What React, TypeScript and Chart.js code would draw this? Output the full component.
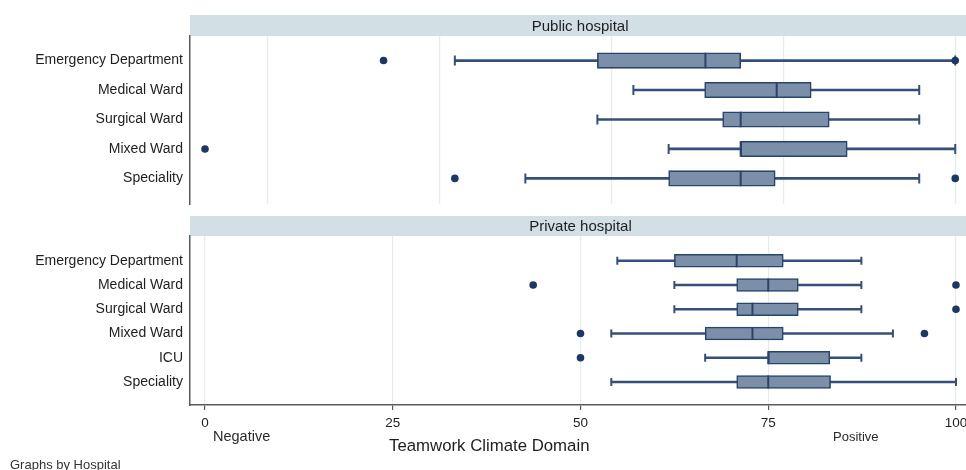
import React, { useEffect, useRef } from "react";
import { Chart, registerables } from "chart.js";

Chart.register(...registerables);

// ---------------- data ----------------
const xTickValues = [0, 25, 50, 75, 100];
const publicGridValues = [8.4, 31.3, 54.2, 77.1, 100];

const publicCategories = ["Emergency Department", "Medical Ward", "Surgical Ward", "Mixed Ward", "Speciality"];
const publicLowerWhisker = [33.3, 57.1, 52.3, 61.8, 42.7];
const publicQ1 = [52.3, 66.6, 69.0, 71.4, 61.8];
const publicMedian = [66.7, 76.2, 71.4, 71.4, 71.4];
const publicQ3 = [71.4, 80.8, 83.2, 85.6, 76.0];
const publicUpperWhisker = [100, 95.2, 95.2, 100, 95.2];
const publicOutliers = [[23.8, 100], [], [], [0], [33.3, 100]];

const privateCategories = ["Emergency Department", "Medical Ward", "Surgical Ward", "Mixed Ward", "ICU", "Speciality"];
const privateLowerWhisker = [54.9, 62.5, 62.5, 54.1, 66.6, 54.1];
const privateQ1 = [62.5, 70.8, 70.8, 66.6, 75.0, 70.8];
const privateMedian = [70.8, 75.0, 72.9, 72.9, 75.0, 75.0];
const privateQ3 = [77.0, 79.0, 79.0, 77.0, 83.2, 83.3];
const privateUpperWhisker = [87.4, 87.4, 87.4, 91.6, 87.4, 100];
const privateOutliers = [[], [43.7, 100], [100], [50, 95.8], [50], []];

const publicTitle = "Public hospital";
const privateTitle = "Private hospital";
const axisTitle = "Teamwork Climate Domain";
const negativeLabel = "Negative";
const positiveLabel = "Positive";
const byLabel = "Graphs by Hospital";

// ---------------- styles ----------------
const FONT = "Arial, 'Liberation Sans', Helvetica, sans-serif";
const BOX_FILL = "#7b8fa9";
const BOX_EDGE = "#29446a";
const WHISKER = "#34507a";
const DOT = "#1b3763";
const GRID = "#e7ebee";
const AXIS = "#5a5a5a";
const STRIP = "#d2e0e6";
const TEXT = "#1e1e1e";

type PanelSpec = {
  title: string;
  categories: string[];
  lo: number[];
  q1: number[];
  med: number[];
  q3: number[];
  hi: number[];
  outliers: number[][];
  gridValues: number[];
  showXAxis: boolean;
  yMin: number;
  yMax: number;
  boxH: number;
  capH: number;
  width: number;
  height: number;
  padTop: number;
  padBottom: number;
  stripTop: number;
  xAxisHeight: number;
};

function buildConfig(p: PanelSpec): any {
  const idx = p.categories.map((_, i) => i + 1);
  const caps: { x: number; y: number }[] = [];
  idx.forEach((y, i) => {
    caps.push({ x: p.lo[i], y });
    caps.push({ x: p.hi[i], y });
  });
  const dots: { x: number; y: number }[] = [];
  idx.forEach((y, i) => p.outliers[i].forEach((x) => dots.push({ x, y })));

  const stripPlugin = {
    id: "strip",
    beforeDraw(chart: any) {
      const { ctx, chartArea, width } = chart;
      ctx.save();
      ctx.fillStyle = STRIP;
      ctx.fillRect(chartArea.left, p.stripTop, width - chartArea.left, chartArea.top - p.stripTop);
      ctx.fillStyle = TEXT;
      ctx.font = `15px ${FONT}`;
      ctx.textAlign = "center";
      ctx.textBaseline = "middle";
      ctx.fillText(p.title, (chartArea.left + chartArea.right) / 2, (p.stripTop + chartArea.top) / 2 + 1);
      ctx.restore();
    },
  };

  return {
    type: "bar",
    data: {
      datasets: [
        {
          type: "bar",
          data: idx.map((y, i) => ({ y, x: [p.q1[i], p.q3[i]] })),
          backgroundColor: BOX_FILL,
          borderColor: BOX_EDGE,
          borderWidth: 1.6,
          borderSkipped: false,
          barThickness: p.boxH,
          maxBarThickness: p.boxH,
          barPercentage: 1,
          categoryPercentage: 1,
          grouped: false,
          order: 2,
        },
        {
          type: "bar",
          data: idx.map((y, i) => ({ y, x: [p.lo[i], p.hi[i]] })),
          backgroundColor: WHISKER,
          borderWidth: 0,
          barThickness: 2,
          maxBarThickness: 2,
          barPercentage: 1,
          categoryPercentage: 1,
          grouped: false,
          order: 3,
        },
        {
          type: "scatter",
          data: idx.map((y, i) => ({ x: p.med[i], y })),
          pointStyle: "line",
          rotation: 90,
          radius: p.boxH / 2,
          borderColor: BOX_EDGE,
          borderWidth: 2,
          order: 1,
        },
        {
          type: "scatter",
          data: caps,
          pointStyle: "line",
          rotation: 90,
          radius: p.capH / 2,
          borderColor: WHISKER,
          borderWidth: 2,
          order: 1,
        },
        {
          type: "scatter",
          data: dots,
          pointStyle: "circle",
          radius: 3.8,
          backgroundColor: DOT,
          borderColor: DOT,
          borderWidth: 0,
          order: 0,
        },
      ],
    },
    options: {
      indexAxis: "y",
      responsive: false,
      animation: false,
      events: [],
      layout: { padding: { top: p.padTop, bottom: p.padBottom, left: 0, right: 9 } },
      plugins: { legend: { display: false }, tooltip: { enabled: false } },
      scales: {
        x: {
          type: "linear",
          min: -2,
          max: 102,
          offset: false,
          afterBuildTicks: (s: any) => {
            s.ticks = (p.showXAxis ? xTickValues : p.gridValues).map((value) => ({ value }));
          },
          afterFit: (s: any) => {
            s.height = p.xAxisHeight;
          },
          ticks: {
            display: p.showXAxis,
            autoSkip: false,
            maxRotation: 0,
            padding: 5,
            color: TEXT,
            font: { family: FONT, size: 13.5 },
          },
          grid: {
            color: GRID,
            lineWidth: 1.2,
            offset: false,
            drawTicks: p.showXAxis,
            tickLength: 5,
            tickColor: AXIS,
            tickWidth: 1.2,
          },
          border: { display: p.showXAxis, color: AXIS, width: 1.5 },
        },
        y: {
          type: "linear",
          reverse: true,
          offset: false,
          min: p.yMin,
          max: p.yMax,
          afterBuildTicks: (s: any) => {
            s.ticks = idx.map((value) => ({ value }));
          },
          afterFit: (s: any) => {
            s.width = 190;
            s.paddingTop = 0;
            s.paddingBottom = 0;
          },
          ticks: {
            autoSkip: false,
            padding: 7,
            color: TEXT,
            font: { family: FONT, size: 14 },
            callback: (v: any) => p.categories[Math.round(Number(v)) - 1] ?? "",
          },
          grid: { display: false, drawTicks: false, offset: false },
          border: { display: true, color: AXIS, width: 1.5 },
        },
      },
    },
    plugins: [stripPlugin],
  };
}

const publicSpec: PanelSpec = {
  title: publicTitle,
  categories: publicCategories,
  lo: publicLowerWhisker,
  q1: publicQ1,
  med: publicMedian,
  q3: publicQ3,
  hi: publicUpperWhisker,
  outliers: publicOutliers,
  gridValues: publicGridValues,
  showXAxis: false,
  yMin: 0.167,
  yMax: 5.877,
  boxH: 15.5,
  capH: 10,
  width: 980,
  height: 214,
  padTop: 36,
  padBottom: 6,
  stripTop: 15,
  xAxisHeight: 0,
};

const privateSpec: PanelSpec = {
  title: privateTitle,
  categories: privateCategories,
  lo: privateLowerWhisker,
  q1: privateQ1,
  med: privateMedian,
  q3: privateQ3,
  hi: privateUpperWhisker,
  outliers: privateOutliers,
  gridValues: xTickValues,
  showXAxis: true,
  yMin: -0.02,
  yMax: 6.95,
  boxH: 13,
  capH: 8,
  width: 980,
  height: 260,
  padTop: 26,
  padBottom: 0,
  stripTop: 6,
  xAxisHeight: 65,
};

function BoxPanel({ spec, top }: { spec: PanelSpec; top: number }) {
  const ref = useRef<HTMLCanvasElement | null>(null);
  useEffect(() => {
    if (!ref.current) return;
    const chart = new Chart(ref.current, buildConfig(spec));
    return () => chart.destroy();
  }, [spec]);
  return (
    <div style={{ position: "absolute", left: 0, top, width: spec.width, height: spec.height }}>
      <canvas ref={ref} width={spec.width} height={spec.height} style={{ display: "block" }} />
    </div>
  );
}

const textBase: React.CSSProperties = {
  position: "absolute",
  fontFamily: FONT,
  lineHeight: 1,
  whiteSpace: "nowrap",
  color: TEXT,
};

export default function App() {
  return (
    <div
      style={{
        position: "fixed",
        left: 0,
        top: 0,
        width: 966,
        height: 470,
        overflow: "hidden",
        background: "#ffffff",
      }}
    >
      <BoxPanel spec={privateSpec} top={210} />
      <BoxPanel spec={publicSpec} top={0} />
      <div style={{ ...textBase, left: 213, top: 429, fontSize: 14.5, color: "#2a2a2a" }}>{negativeLabel}</div>
      <div style={{ ...textBase, left: 833, top: 430, fontSize: 13, color: "#2a2a2a" }}>{positiveLabel}</div>
      <div style={{ ...textBase, left: 389, top: 438, fontSize: 16.8 }}>{axisTitle}</div>
      <div style={{ ...textBase, left: 10, top: 458, fontSize: 13, color: "#333" }}>{byLabel}</div>
    </div>
  );
}
